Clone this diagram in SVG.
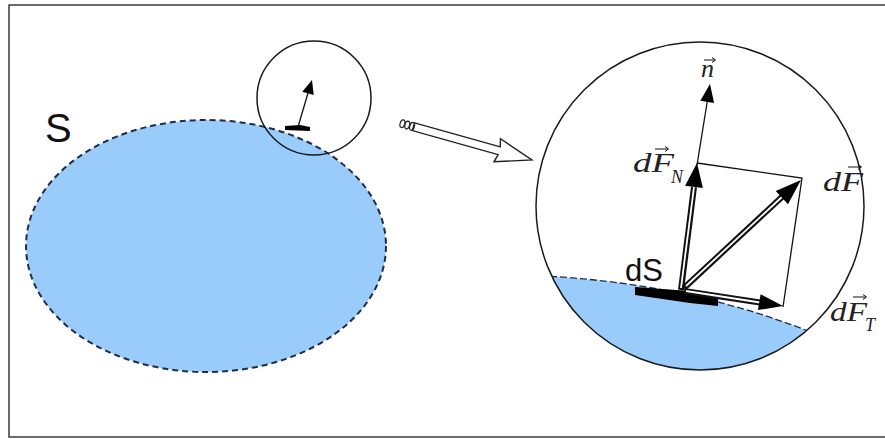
<svg xmlns="http://www.w3.org/2000/svg" width="885" height="439" viewBox="0 0 885 439">
<style>
.frame{fill:#fff;stroke:#3a3a3a;stroke-width:1.5}
.surf{fill:#99ccfa;stroke:#1f2d4a;stroke-width:2;stroke-dasharray:6 4}
.surf2{fill:#99ccfa;stroke:#1f2d4a;stroke-width:1.3;stroke-dasharray:7 3}
.ring{fill:none;stroke:#1a1a1a;stroke-width:1.5}
.thin{fill:none;stroke:#111;stroke-width:1.3}
.dblo{fill:none;stroke:#111;stroke-width:6;stroke-linecap:butt}
.dbli{fill:none;stroke:#fff;stroke-width:1.8;stroke-linecap:butt}
.head{fill:#000}
.math{font-family:"Liberation Serif","DejaVu Serif",serif;font-style:italic;fill:#222}
.sans{font-family:"Liberation Sans",Arial,sans-serif;fill:#111}
.vec{fill:none;stroke:#111;stroke-width:1}
</style>
<defs>
<clipPath id="bigclip"><circle cx="700" cy="206" r="164"/></clipPath>
</defs>
<rect class="frame" x="9" y="5" width="890" height="432"/>

<g id="surface-S">
  <ellipse class="surf" cx="206" cy="246" rx="180" ry="126"/>
  <text class="sans" x="45" y="142" font-size="40">S</text>
</g>

<g id="zoom-circle-small">
  <circle class="ring" cx="314" cy="98" r="57"/>
  <path d="M 285 126 L 300 125 L 310 127 L 310 131 L 285 130 Z" fill="#000"/>
  <line class="thin" x1="298" y1="127" x2="308" y2="93"/>
  <polygon class="head" points="312,80 313.7,95.1 302.3,91.7"/>
</g>

<g id="connectors">
  <g transform="translate(400,123) rotate(15.66)">
    <polygon points="14,-4 103,-4 101,-12 137,0 101,12 103,4 14,4" fill="#fff" stroke="#222" stroke-width="1.4"/>
    <ellipse cx="2.5" cy="0" rx="2.3" ry="4" fill="none" stroke="#222" stroke-width="1.2"/>
    <ellipse cx="7.5" cy="0" rx="2.3" ry="4" fill="none" stroke="#222" stroke-width="1.2"/>
    <ellipse cx="12.5" cy="0" rx="2.3" ry="4" fill="none" stroke="#222" stroke-width="1.2"/>
  </g>
</g>

<g id="zoom-circle-big">
  <path class="surf2" clip-path="url(#bigclip)" d="M 520 275 Q 690 280 830 340 L 830 400 L 520 400 Z"/>
  <circle class="ring" cx="700" cy="206" r="164"/>
</g>

<g id="dS">
  <path d="M 635 287 L 690 291 L 718 298 L 718 306 L 690 303 L 635 295 Z" fill="#000"/>
  <text class="sans" x="625" y="281" font-size="31">dS</text>
</g>

<g id="vector-n">
  <line class="thin" x1="697" y1="165" x2="707.5" y2="100"/>
  <polygon class="head" points="710,84 714.1,102.9 700.3,100.7"/>
  <text class="math" x="701" y="77" font-size="26">n</text>
  <path class="vec" d="M 704 60 H 715 M 712 57.5 L 715.5 60 L 712 62.5"/>
</g>

<g id="parallelogram">
  <path class="thin" d="M 697 163 L 802 178 L 783 307"/>
</g>

<g id="vector-dFN">
  <line class="dblo" x1="681" y1="290" x2="694" y2="187"/>
  <line class="dbli" x1="681" y1="288" x2="694" y2="187"/>
  <polygon class="head" points="697,163 702.9,187.9 685.1,185.7"/>
  <text class="math" x="633" y="172" font-size="27" textLength="41" lengthAdjust="spacingAndGlyphs">dF</text>
  <text class="math" x="671" y="183" font-size="18">N</text>
  <path class="vec" d="M 655 149 H 668 M 665 146.5 L 668.5 149 L 665 151.5"/>
</g>

<g id="vector-dF">
  <line class="dblo" x1="684" y1="288" x2="783" y2="196"/>
  <line class="dbli" x1="686" y1="286" x2="783" y2="196"/>
  <polygon class="head" points="801,180 788,204.3 775.8,191.1"/>
  <text class="math" x="823" y="191" font-size="27" textLength="40" lengthAdjust="spacingAndGlyphs">dF</text>
  <path class="vec" d="M 848 167 H 861 M 858 164.5 L 861.5 167 L 858 169.5"/>
</g>

<g id="vector-dFT">
  <line class="dblo" x1="684" y1="291" x2="760" y2="302.5"/>
  <line class="dbli" x1="686" y1="291" x2="760" y2="302.5"/>
  <polygon class="head" points="783,306 758,310.1 760.6,294.3"/>
  <text class="math" x="830" y="321" font-size="27" textLength="37" lengthAdjust="spacingAndGlyphs">dF</text>
  <text class="math" x="865" y="331" font-size="18">T</text>
  <path class="vec" d="M 853 297 H 866 M 863 294.5 L 866.5 297 L 863 299.5"/>
</g>
</svg>
